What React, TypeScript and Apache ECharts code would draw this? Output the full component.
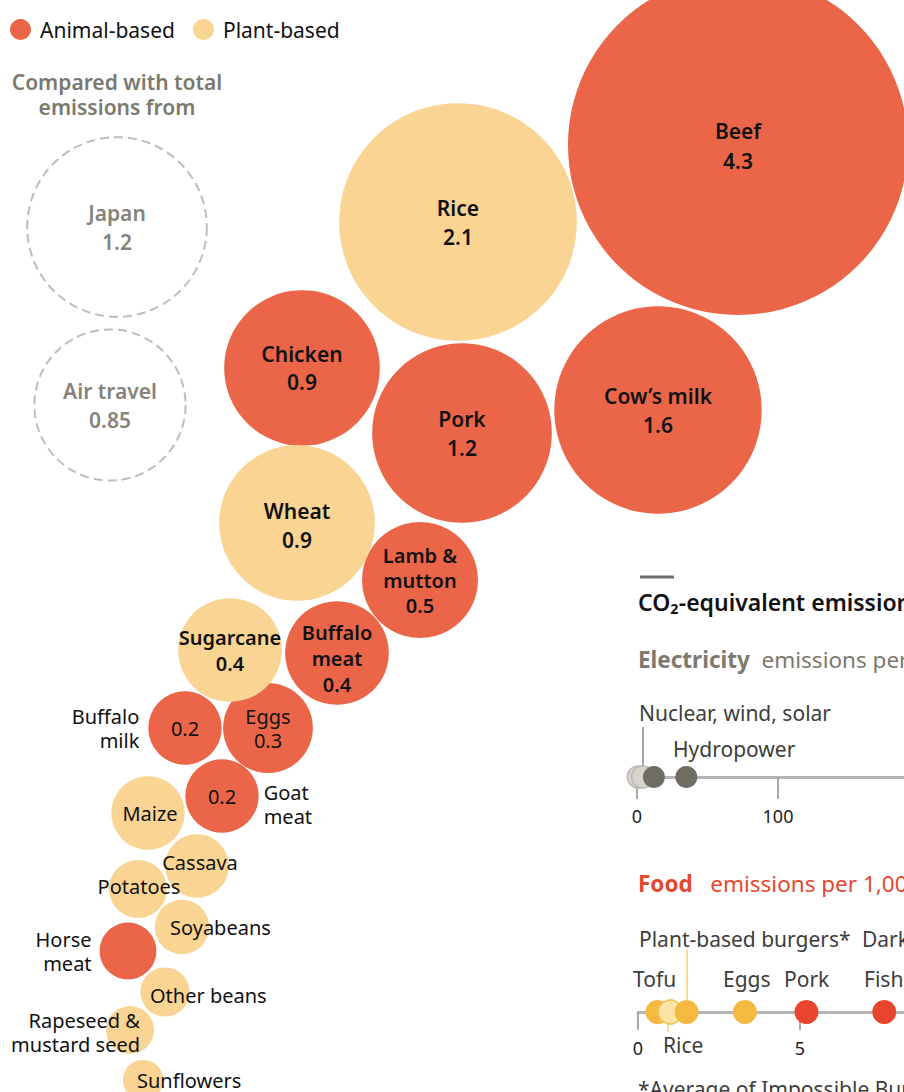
import React, { useEffect, useRef } from "react";
import * as echarts from "echarts";

const FONT = '"Noto Sans", "DejaVu Sans", sans-serif';

// ---- Bubble data (tonnes of CO2-equivalent, billions) ----
const foodNames = [
  "Beef", "Rice", "Cow's milk", "Pork", "Chicken", "Wheat", "Lamb & mutton",
  "Buffalo meat", "Sugarcane", "Buffalo milk", "Eggs", "Goat meat", "Maize",
  "Cassava", "Potatoes", "Soyabeans", "Horse meat", "Other beans",
  "Rapeseed & mustard seed", "Sunflowers",
];
const foodValues = [
  4.3, 2.1, 1.6, 1.2, 0.9, 0.9, 0.5, 0.4, 0.4, 0.2, 0.3, 0.2, 0.2, 0.15,
  0.125, 0.11, 0.12, 0.09, 0.085, 0.06,
];
const foodKinds = [
  "animal", "plant", "animal", "animal", "animal", "plant", "animal", "animal",
  "plant", "animal", "animal", "animal", "plant", "plant", "plant", "plant",
  "animal", "plant", "plant", "plant",
];
// packed layout coordinates (hidden layout axes)
const layoutX = [738, 458, 658, 462, 302, 297, 420, 337, 230, 185, 268, 222, 148, 197, 138, 182, 128, 165, 130, 143];
const layoutY = [145, 222, 410, 433, 368, 523, 580, 653, 650, 728, 728, 796, 813, 866, 889, 927, 951, 992, 1030, 1080];

const compareNames = ["Japan", "Air travel"];
const compareValues = [1.2, 0.85];
const compareX = [117, 110];
const compareY = [227, 405];

// ---- Strip data ----
const elecSources = ["Wind", "Solar", "Nuclear", "Hydropower"];
const elecValues = [1, 4, 12, 35];
const elecGhost = [true, true, false, false];
const elecTicks = [0, 100, 200];

const stripFoods = ["Tofu", "Rice", "Plant-based burgers", "Eggs", "Pork", "Fish"];
const stripFoodValues = [0.6, 1.0, 1.5, 3.3, 5.2, 7.6];
const stripFoodKinds = ["plant", "plant", "plant", "plant", "animal", "animal"];
const stripFoodGhost = [false, true, false, false, false, false];
const foodTicks = [0, 5, 10];

// ---- Styles ----
const ANIMAL = "#eb6649";
const PLANT = "#fad492";
const K = 82;
const sizeOf = (v: number) => 2 * K * Math.sqrt(v);

const displayName: Record<string, string> = {
  "Cow's milk": "Cow\u2019s milk",
  "Lamb & mutton": "Lamb &\nmutton",
  "Buffalo meat": "Buffalo\nmeat",
  "Buffalo milk": "Buffalo\nmilk",
  "Goat meat": "Goat\nmeat",
  "Horse meat": "Horse\nmeat",
  "Rapeseed & mustard seed": "Rapeseed &\nmustard seed",
};

type LC = {
  text: "both" | "value" | "name" | "none";
  size?: number;
  weight?: number;
  lh?: number;
  align?: string;
  offset?: number[];
  outer?: "left" | "right";
  outerDist?: number;
  outerOffset?: number[];
};
const labelCfg: Record<string, LC> = {
  Beef: { text: "both", size: 21, weight: 600, lh: 30, offset: [0, 1] },
  Rice: { text: "both", size: 21, weight: 600, lh: 29 },
  "Cow's milk": { text: "both", size: 21, weight: 600, lh: 29 },
  Pork: { text: "both", size: 21, weight: 600, lh: 29 },
  Chicken: { text: "both", size: 21, weight: 600, lh: 28 },
  Wheat: { text: "both", size: 21, weight: 600, lh: 29, offset: [0, 2] },
  "Lamb & mutton": { text: "both", size: 20, weight: 600, lh: 25 },
  "Buffalo meat": { text: "both", size: 20, weight: 600, lh: 26, offset: [0, 5] },
  Sugarcane: { text: "both", size: 20, weight: 600, lh: 26 },
  Eggs: { text: "both", size: 20, weight: 400, lh: 24 },
  "Buffalo milk": { text: "value", size: 20, weight: 400, outer: "left", outerDist: 9 },
  "Goat meat": { text: "value", size: 20, weight: 400, outer: "right", outerDist: 5, outerOffset: [0, 8] },
  Maize: { text: "name", offset: [2, 0] },
  Cassava: { text: "name", offset: [3, -4] },
  Potatoes: { text: "name", offset: [1, -3] },
  Soyabeans: { text: "name", align: "left", offset: [-12, 0] },
  "Horse meat": { text: "none", outer: "left", outerDist: 8 },
  "Other beans": { text: "name", align: "left", offset: [-15, 3] },
  "Rapeseed & mustard seed": { text: "name", align: "right", offset: [10, 2] },
  Sunflowers: { text: "name", align: "left", offset: [-6, 0] },
};

function bubbleItem(i: number) {
  const name = foodNames[i];
  const value = foodValues[i];
  const cfg = labelCfg[name];
  const dn = displayName[name] || name;
  let text = "";
  if (cfg.text === "both") text = `${dn}\n${value}`;
  else if (cfg.text === "value") text = `${value}`;
  else if (cfg.text === "name") text = dn;
  return {
    name,
    value: [layoutX[i], layoutY[i], value],
    label: {
      show: cfg.text !== "none",
      position: "inside",
      formatter: () => text,
      fontFamily: FONT,
      fontSize: cfg.size || 20,
      fontWeight: cfg.weight || 400,
      lineHeight: cfg.lh || 24,
      color: "#111",
      align: cfg.align || "center",
      offset: cfg.offset || [0, 0],
    },
  };
}

function outerItem(i: number) {
  const name = foodNames[i];
  const cfg = labelCfg[name];
  const dn = displayName[name] || name;
  return {
    name,
    value: [layoutX[i], layoutY[i], foodValues[i]],
    label: {
      show: true,
      position: cfg.outer,
      distance: cfg.outerDist || 6,
      offset: cfg.outerOffset || [0, 0],
      formatter: () => dn,
      fontFamily: FONT,
      fontSize: 20,
      lineHeight: 24,
      color: "#111",
      align: cfg.outer === "left" ? "right" : "left",
    },
  };
}

export default function App() {
  const ref = useRef<HTMLDivElement>(null);
  useEffect(() => {
    document.body.style.margin = "0";
    const chart = echarts.init(ref.current!, null, { renderer: "svg" });
    const idx = foodNames.map((_, i) => i);
    const animalData = idx.filter((i) => foodKinds[i] === "animal").map(bubbleItem);
    const plantData = idx.filter((i) => foodKinds[i] === "plant").map(bubbleItem);
    const outerData = idx.filter((i) => labelCfg[foodNames[i]].outer).map(outerItem);

    const stripAxis = (ticks: number[], gridIndex: number, margin: number, tickLen: number) => ({
      type: "value",
      gridIndex,
      min: ticks[0],
      max: ticks[ticks.length - 1],
      interval: ticks[1] - ticks[0],
      axisLine: { show: true, lineStyle: { color: "#b5b5b5", width: 3 } },
      axisTick: { show: true, length: tickLen, lineStyle: { color: "#a8a8a8", width: 2 } },
      axisLabel: { fontFamily: FONT, fontSize: 18, color: "#222", margin },
      splitLine: { show: false },
    });

    const option: any = {
      animation: false,
      legend: {
        data: ["Animal-based", "Plant-based"],
        left: 5,
        top: 14,
        icon: "circle",
        itemWidth: 21,
        itemHeight: 21,
        itemGap: 18,
        selectedMode: false,
        textStyle: { fontFamily: FONT, fontSize: 21, color: "#111", padding: [0, 0, 0, 4] },
      },
      grid: [
        { left: 0, top: 0, width: 904, height: 1092, outerBoundsMode: "none" },
        { left: 637, top: 700, width: 282, height: 77, outerBoundsMode: "none", containLabel: false },
        { left: 638, top: 930, width: 324, height: 82, outerBoundsMode: "none", containLabel: false },
      ],
      xAxis: [
        { type: "value", gridIndex: 0, min: 0, max: 904, show: false },
        stripAxis(elecTicks, 1, 30, 22),
        stripAxis(foodTicks, 2, 27, 18),
      ],
      yAxis: [
        { type: "value", gridIndex: 0, min: 0, max: 1092, inverse: true, show: false },
        { type: "value", gridIndex: 1, min: 0, max: 1, show: false },
        { type: "value", gridIndex: 2, min: 0, max: 1, show: false },
      ],
      series: [
        {
          name: "Compared",
          type: "scatter",
          xAxisIndex: 0,
          yAxisIndex: 0,
          clip: false,
          silent: true,
          symbolSize: (v: number[]) => sizeOf(v[2]),
          itemStyle: { color: "rgba(255,255,255,0)", borderColor: "#bdbdbd", borderWidth: 2, borderType: [9, 5], opacity: 1 },
          label: {
            show: true,
            position: "inside",
            formatter: (p: any) => `${p.name}\n${p.value[2]}`,
            fontFamily: FONT,
            fontSize: 21,
            fontWeight: 600,
            lineHeight: 29,
            color: "#85837a",
          },
          data: compareNames.map((n, i) => ({ name: n, value: [compareX[i], compareY[i], compareValues[i]] })),
        },
        {
          name: "Animal-based",
          type: "scatter",
          xAxisIndex: 0,
          yAxisIndex: 0,
          clip: false,
          silent: true,
          symbolSize: (v: number[]) => sizeOf(v[2]),
          itemStyle: { color: ANIMAL, opacity: 1 },
          data: animalData,
        },
        {
          name: "Plant-based",
          type: "scatter",
          xAxisIndex: 0,
          yAxisIndex: 0,
          clip: false,
          silent: true,
          symbolSize: (v: number[]) => sizeOf(v[2]),
          itemStyle: { color: PLANT, opacity: 1 },
          data: plantData,
        },
        {
          name: "outer-labels",
          type: "scatter",
          xAxisIndex: 0,
          yAxisIndex: 0,
          clip: false,
          silent: true,
          z: 5,
          symbolSize: (v: number[]) => sizeOf(v[2]),
          itemStyle: { color: "rgba(0,0,0,0)", opacity: 1 },
          data: outerData,
        },
        {
          name: "Electricity",
          type: "scatter",
          xAxisIndex: 1,
          yAxisIndex: 1,
          clip: false,
          silent: true,
          z: 6,
          symbolSize: 22,
          data: elecSources.map((n, i) => ({
            name: n,
            value: [elecValues[i], 0],
            itemStyle: elecGhost[i]
              ? { color: "#d6d4cd", borderColor: "#b9b7ae", borderWidth: 1.5, opacity: 1 }
              : { color: "#6f6c62", opacity: 1 },
          })),
        },
        {
          name: "Food strip",
          type: "scatter",
          xAxisIndex: 2,
          yAxisIndex: 2,
          clip: false,
          silent: true,
          z: 6,
          symbolSize: 24,
          data: stripFoods.map((n, i) => ({
            name: n,
            value: [stripFoodValues[i], 0],
            itemStyle: stripFoodGhost[i]
              ? { color: "#fbe3a6", borderColor: "#f3c45c", borderWidth: 1.5, opacity: 1 }
              : { color: stripFoodKinds[i] === "animal" ? "#e8452c" : "#f5b942", opacity: 1 },
          })),
        },
      ],
      graphic: [
        {
          type: "text",
          x: 117,
          y: 94,
          style: {
            text: "Compared with total\nemissions from",
            fontFamily: FONT,
            fontSize: 21,
            fontWeight: 600,
            lineHeight: 25,
            fill: "#7b796e",
            align: "center",
            verticalAlign: "middle",
          },
        },
        { type: "line", shape: { x1: 640, y1: 577, x2: 674, y2: 577 }, style: { stroke: "#6e6e6e", lineWidth: 3 } },
        {
          type: "text",
          x: 638,
          y: 602,
          style: { text: "CO\u2082-equivalent emissions", fontFamily: FONT, fontSize: 23, fontWeight: 600, fill: "#111", verticalAlign: "middle" },
        },
        {
          type: "text",
          x: 638,
          y: 659,
          style: {
            text: "{a|Electricity}{b|  emissions per kWh}",
            verticalAlign: "middle",
            rich: {
              a: { fontFamily: FONT, fontSize: 22.5, fontWeight: 700, fill: "#7c796d" },
              b: { fontFamily: FONT, fontSize: 22.5, fontWeight: 400, fill: "#7c796d" },
            },
          },
        },
        {
          type: "text",
          x: 639,
          y: 713,
          style: { text: "Nuclear, wind, solar", fontFamily: FONT, fontSize: 21, fill: "#3d3d3d", verticalAlign: "middle" },
        },
        { type: "line", shape: { x1: 643, y1: 727, x2: 643, y2: 766 }, style: { stroke: "#8a8a8a", lineWidth: 1.5 } },
        {
          type: "text",
          x: 673,
          y: 749,
          style: { text: "Hydropower", fontFamily: FONT, fontSize: 21, fill: "#3d3d3d", verticalAlign: "middle" },
        },
        {
          type: "text",
          x: 638,
          y: 883,
          style: {
            text: "{a|Food}{b|   emissions per 1,000 kcal}",
            verticalAlign: "middle",
            rich: {
              a: { fontFamily: FONT, fontSize: 22.5, fontWeight: 700, fill: "#e6472f" },
              b: { fontFamily: FONT, fontSize: 22.5, fontWeight: 400, fill: "#e6472f" },
            },
          },
        },
        {
          type: "text",
          x: 639,
          y: 939,
          style: { text: "Plant-based burgers*", fontFamily: FONT, fontSize: 21, fill: "#3d3d3d", verticalAlign: "middle" },
        },
        {
          type: "text",
          x: 862,
          y: 939,
          style: { text: "Dark chocolate", fontFamily: FONT, fontSize: 21, fill: "#3d3d3d", verticalAlign: "middle" },
        },
        { type: "line", shape: { x1: 687, y1: 950, x2: 687, y2: 1000 }, style: { stroke: "#f3cf78", lineWidth: 1.5 } },
        { type: "text", x: 633, y: 979, style: { text: "Tofu", fontFamily: FONT, fontSize: 21, fill: "#3d3d3d", verticalAlign: "middle" } },
        { type: "text", x: 723, y: 979, style: { text: "Eggs", fontFamily: FONT, fontSize: 21, fill: "#3d3d3d", verticalAlign: "middle" } },
        { type: "text", x: 784, y: 979, style: { text: "Pork", fontFamily: FONT, fontSize: 21, fill: "#3d3d3d", verticalAlign: "middle" } },
        { type: "text", x: 864, y: 979, style: { text: "Fish", fontFamily: FONT, fontSize: 21, fill: "#3d3d3d", verticalAlign: "middle" } },
        { type: "line", shape: { x1: 668, y1: 1016, x2: 668, y2: 1032 }, style: { stroke: "#f3cf78", lineWidth: 1.5 } },
        { type: "text", x: 663, y: 1045, style: { text: "Rice", fontFamily: FONT, fontSize: 21, fill: "#3d3d3d", verticalAlign: "middle" } },
        {
          type: "text",
          x: 638,
          y: 1078,
          style: { text: "*Average of Impossible Burger and Beyond Burger", fontFamily: FONT, fontSize: 21, fill: "#3d3d3d", verticalAlign: "top" },
        },
      ],
    };
    chart.setOption(option);
    return () => chart.dispose();
  }, []);
  return <div ref={ref} style={{ width: 904, height: 1092 }} />;
}
